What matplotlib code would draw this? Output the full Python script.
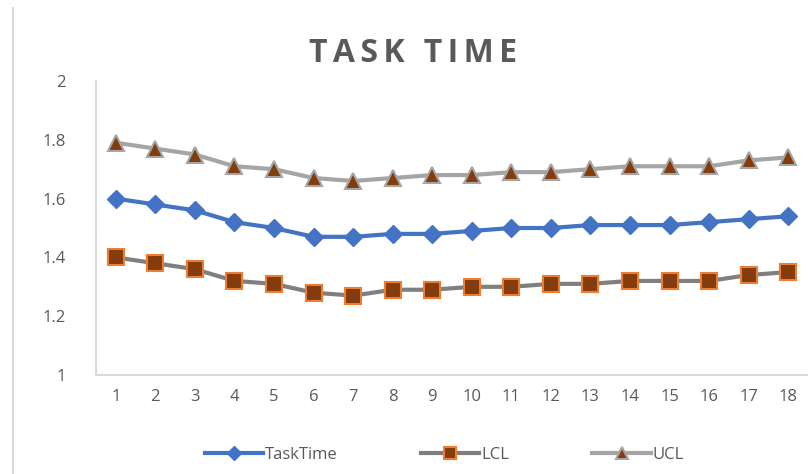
import matplotlib.pyplot as plt
from matplotlib.lines import Line2D

plt.rcParams['font.family'] = ['Open Sans', 'DejaVu Sans']

samples = list(range(1, 19))
task_time = [1.60, 1.58, 1.56, 1.52, 1.50, 1.47, 1.47, 1.48, 1.48,
             1.49, 1.50, 1.50, 1.51, 1.51, 1.51, 1.52, 1.53, 1.54]
lcl = [1.40, 1.38, 1.36, 1.32, 1.31, 1.28, 1.27, 1.29, 1.29,
       1.30, 1.30, 1.31, 1.31, 1.32, 1.32, 1.32, 1.34, 1.35]
ucl = [1.79, 1.77, 1.75, 1.71, 1.70, 1.67, 1.66, 1.67, 1.68,
       1.68, 1.69, 1.69, 1.70, 1.71, 1.71, 1.71, 1.73, 1.74]
y_ticks = [1, 1.2, 1.4, 1.6, 1.8, 2]

fig = plt.figure(figsize=(8.08, 4.74), dpi=100)
ax = fig.add_axes([96 / 808, 1 - 375 / 474, 1 - 96 / 808, 294 / 474])

ax.plot(samples, task_time, color='#4472C4', lw=3, marker='D', ms=9,
        mfc='#4472C4', mec='#4472C4', label='TaskTime')
ax.plot(samples, lcl, color='#7F7F7F', lw=3, marker='s', ms=11,
        mfc='#843C0C', mec='#ED7D31', mew=1.5, label='LCL')
ax.plot(samples, ucl, color='#A5A5A5', lw=3, marker='^', ms=11,
        mfc='#843C0C', mec='#A5A5A5', mew=1.5, label='UCL')

ax.set_xlim(0.5, 18.5)
ax.set_ylim(1, 2)
ax.set_xticks(samples)
ax.set_yticks(y_ticks)
ax.set_yticklabels(['1', '1.2', '1.4', '1.6', '1.8', '2'])
for s in ['top', 'right']:
    ax.spines[s].set_visible(False)
for s in ['left', 'bottom']:
    ax.spines[s].set_color('#D9D9D9')
    ax.spines[s].set_linewidth(1.5)
ax.tick_params(length=0, labelsize=12, colors='#595959', pad=10)
ax.tick_params(axis='y', pad=22)

# letter-spaced title (six-per-em spaces between letters)
title = '\u2006'.join('TASK TIME')
fig.text(0.511, 1 - 53 / 474, title,
         ha='center', va='center', fontsize=23, fontweight='bold', color='#595959')

fig.add_artist(Line2D([13 / 808, 13 / 808], [0, 1 - 8 / 474], color='#D9D9D9', lw=1.5))

leg = fig.legend(loc='center', bbox_to_anchor=(0.55, 1 - 455 / 474), ncol=3, frameon=False,
                 fontsize=12, handlelength=3.5, columnspacing=5, handletextpad=0.1,
                 markerscale=0.75)
for t in leg.get_texts():
    t.set_color('#595959')

fig.savefig('out.png', dpi=100)
